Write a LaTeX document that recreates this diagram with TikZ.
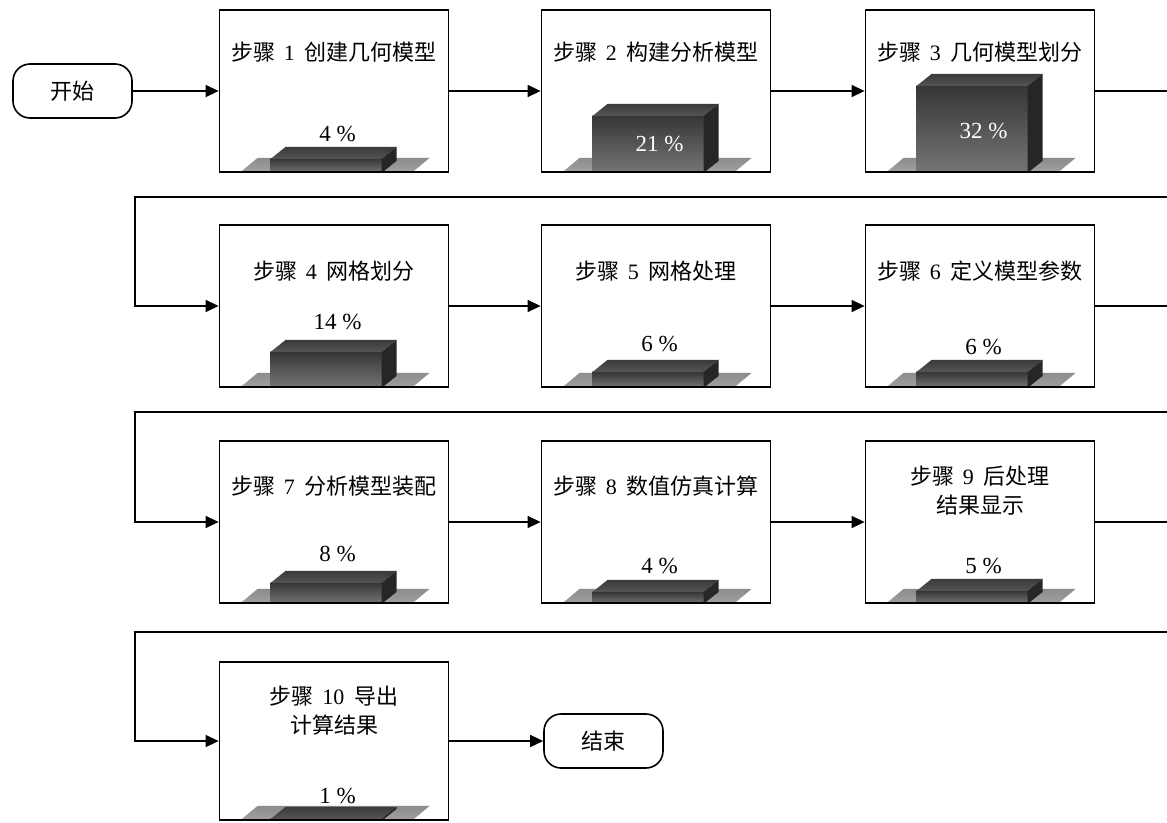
\documentclass[tikz,border=0pt]{standalone}
\usepackage{fontspec}
\setmainfont{Liberation Serif}
\newfontfamily\cjk{Noto Sans CJK SC}
\usetikzlibrary{arrows.meta,calc,backgrounds}
\definecolor{floorT}{HTML}{8C8C8C}
\definecolor{floorB}{HTML}{A2A2A2}
\definecolor{frontT}{HTML}{363636}
\definecolor{frontB}{HTML}{767676}
\definecolor{topT}{HTML}{3A3A3A}
\definecolor{topB}{HTML}{555555}
\definecolor{sideC}{HTML}{262626}
\newcommand\stp[2]{{\cjk 步骤}\hspace{0.4em}#1\hspace{0.45em}{\cjk #2}}
\newcommand\drawbar[5]{%
  \begin{pgfonlayer}{background}
  \begin{scope}[shift={(#1.south west)}]
    \shade[top color=floorT,bottom color=floorB] (21,0) -- (39,-15) -- (211,-15) -- (193,0) -- cycle;
    \shade[top color=frontT,bottom color=frontB] (52,0) rectangle (163,-#2);
    \shade[top color=topT,bottom color=topB] (52,-#2) -- (67,-#2-12) -- (178,-#2-12) -- (163,-#2) -- cycle;
    \fill[sideC] (163,0) -- (163,-#2) -- (178,-#2-12) -- (178,-12) -- cycle;
  \end{scope}
  \end{pgfonlayer}
  \node[pct,text=#5] at ($(#1.south west)+(119,-#4)$) {#3};
}
\tikzset{
  boxn/.style={draw, line width=1.8pt, minimum width=229pt, minimum height=162pt, inner sep=0pt},
  term/.style={draw, line width=1.6pt, rounded corners=17pt, minimum width=119pt, minimum height=54pt, inner sep=0pt, font=\cjk\fontsize{22}{26}\selectfont},
  ttl/.style={align=center, font=\fontsize{22}{29}\selectfont, inner sep=0pt},
  pct/.style={font=\fontsize{23}{26}\selectfont, inner sep=0pt},
  con/.style={line width=1.4pt, -{Triangle[length=13pt,width=12pt]}},
}
\begin{document}
\begin{tikzpicture}[x=1pt,y=-1pt]
\useasboundingbox (0,0) rectangle (1167,822);
\clip (0,0) rectangle (1167,822);
% terminals
\node[term] (start) at (72.5,91) {开始};
\node[term] (end) at (603.5,741) {结束};
% boxes
\node[boxn] (b1) at (334,91) {};
\node[boxn] (b2) at (656,91) {};
\node[boxn] (b3) at (980,91) {};
\node[boxn] (b4) at (334,306) {};
\node[boxn] (b5) at (656,306) {};
\node[boxn] (b6) at (980,306) {};
\node[boxn] (b7) at (334,522) {};
\node[boxn] (b8) at (656,522) {};
\node[boxn] (b9) at (980,522) {};
\node[boxn,minimum height=158pt] (b10) at (334,741) {};
% titles
\node[ttl] (t1) at ($(b1.north)+(0,43)$) {\stp{1}{创建几何模型}};
\node[ttl] (t2) at ($(b2.north)+(0,43)$) {\stp{2}{构建分析模型}};
\node[ttl] (t3) at ($(b3.north)+(0,43)$) {\stp{3}{几何模型划分}};
\node[ttl] (t4) at ($(b4.north)+(0,47)$) {\stp{4}{网格划分}};
\node[ttl] (t5) at ($(b5.north)+(0,47)$) {\stp{5}{网格处理}};
\node[ttl] (t6) at ($(b6.north)+(0,47)$) {\stp{6}{定义模型参数}};
\node[ttl] (t7) at ($(b7.north)+(0,46)$) {\stp{7}{分析模型装配}};
\node[ttl] (t8) at ($(b8.north)+(0,46)$) {\stp{8}{数值仿真计算}};
\node[ttl] (t9) at ($(b9.north)+(0,51)$) {\stp{9}{后处理}\\{\cjk 结果显示}};
\node[ttl] (t10) at ($(b10.north)+(0,50)$) {\stp{10}{导出}\\{\cjk 计算结果}};
% bars
\drawbar{b1}{14}{4 \%}{39}{black}
\drawbar{b2}{57}{21 \%}{29}{white}
\drawbar{b3}{87}{32 \%}{42}{white}
\drawbar{b4}{36}{14 \%}{66}{black}
\drawbar{b5}{16}{6 \%}{44}{black}
\drawbar{b6}{16}{6 \%}{41}{black}
\drawbar{b7}{21}{8 \%}{50}{black}
\drawbar{b8}{12}{4 \%}{38}{black}
\drawbar{b9}{13}{5 \%}{38}{black}
\drawbar{b10}{2}{1 \%}{25}{black}
% turning points
\coordinate (e1) at (1190,197);
\coordinate (r1) at (135,197);
\coordinate (e2) at (1190,412);
\coordinate (r2) at (135,412);
\coordinate (e3) at (1190,632);
\coordinate (r3) at (135,632);
% connectors
\draw[con] (start.east) -- (b1.west);
\draw[con] (b1.east) -- (b2.west);
\draw[con] (b2.east) -- (b3.west);
\draw[con] (b3.east) -| (e1) -- (r1) |- (b4.west);
\draw[con] (b4.east) -- (b5.west);
\draw[con] (b5.east) -- (b6.west);
\draw[con] (b6.east) -| (e2) -- (r2) |- (b7.west);
\draw[con] (b7.east) -- (b8.west);
\draw[con] (b8.east) -- (b9.west);
\draw[con] (b9.east) -| (e3) -- (r3) |- (b10.west);
\draw[con] (b10.east) -- (end.west);
\end{tikzpicture}
\end{document}
